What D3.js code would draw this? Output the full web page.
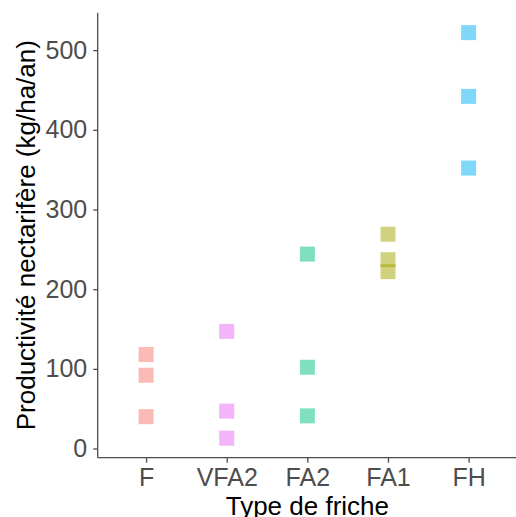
<!DOCTYPE html>
<html>
<head>
<meta charset="utf-8">
<script src="https://cdn.jsdelivr.net/npm/d3@7"></script>
<style>
  body { margin: 0; background: #fff; }
  svg { display: block; font-family: Arial, "Liberation Sans", sans-serif; }
</style>
</head>
<body>
<div id="chart"></div>
<script>
// friche types in display order
const categories = ['F', 'VFA2', 'FA2', 'FA1', 'FH']
// ggplot hue colours (alphabetical factor levels)
const categoryColors = ['#F8766D', '#E76BF3', '#00BF7D', '#A3A500', '#00B0F6']
// productivité nectarifère per site (kg/ha/an)
const valuesF = [118, 92, 40]
const valuesVFA2 = [147, 47, 13]
const valuesFA2 = [244, 102, 41]
const valuesFA1 = [269, 237, 222]
const valuesFH = [522, 442, 352]
const yTicks = [0, 100, 200, 300, 400, 500]

const seriesValues = [valuesF, valuesVFA2, valuesFA2, valuesFA1, valuesFH]
const points = []
categories.forEach((c, i) => {
  seriesValues[i].forEach(v => points.push({type: c, value: v, color: categoryColors[i]}))
})

const canvasWidth = 516
const canvasHeight = 517
const panel = {left: 97.7, right: 517, top: 12.7, bottom: 457.7}

const svg = d3
  .select('#chart')
  .append('svg')
  .attr('width', canvasWidth)
  .attr('height', canvasHeight)

const xScale = d3
  .scalePoint()
  .domain(categories)
  .range([panel.left, panel.right])
  .padding(0.6)

const yScale = d3
  .scaleLinear()
  .domain([-11.5, 547])
  .range([panel.bottom, panel.top])

// points: filled squares with alpha 0.5
const size = 15
svg
  .append('g')
  .selectAll('rect')
  .data(points)
  .enter()
  .append('rect')
  .attr('x', d => xScale(d.type) - size / 2)
  .attr('y', d => yScale(d.value) - size / 2)
  .attr('width', size)
  .attr('height', size)
  .attr('fill', d => d.color)
  .attr('fill-opacity', 0.5)

// y axis
const yAxis = svg
  .append('g')
  .attr('transform', `translate(${panel.left}, 0)`)
  .call(d3.axisLeft(yScale).tickValues(yTicks).tickSize(4.5).tickPadding(6))
yAxis.select('.domain').attr('d', `M0,${panel.top}V${panel.bottom}`)

// x axis
const xAxis = svg
  .append('g')
  .attr('transform', `translate(0, ${panel.bottom})`)
  .call(d3.axisBottom(xScale).tickSize(5).tickPadding(6))
xAxis.select('.domain').attr('d', `M${panel.left},0H${panel.right}`)

svg.selectAll('.domain').attr('stroke', '#4d4d4d').attr('stroke-width', 1.3)
svg.selectAll('.tick line').attr('stroke', '#4d4d4d').attr('stroke-width', 1.3)
svg
  .selectAll('.tick text')
  .attr('fill', '#4d4d4d')
  .attr('font-size', '25px')
  .attr('font-family', 'Arial, "Liberation Sans", sans-serif')

// axis titles
svg
  .append('text')
  .attr('x', (panel.left + panel.right) / 2)
  .attr('y', 515.3)
  .attr('text-anchor', 'middle')
  .attr('font-size', '26px')
  .attr('fill', '#000')
  .text('Type de friche')

svg
  .append('text')
  .attr('transform', `translate(35, ${(panel.top + panel.bottom) / 2}) rotate(-90)`)
  .attr('text-anchor', 'middle')
  .attr('font-size', '26px')
  .attr('fill', '#000')
  .text('Productivité nectarifère (kg/ha/an)')
</script>
</body>
</html>
